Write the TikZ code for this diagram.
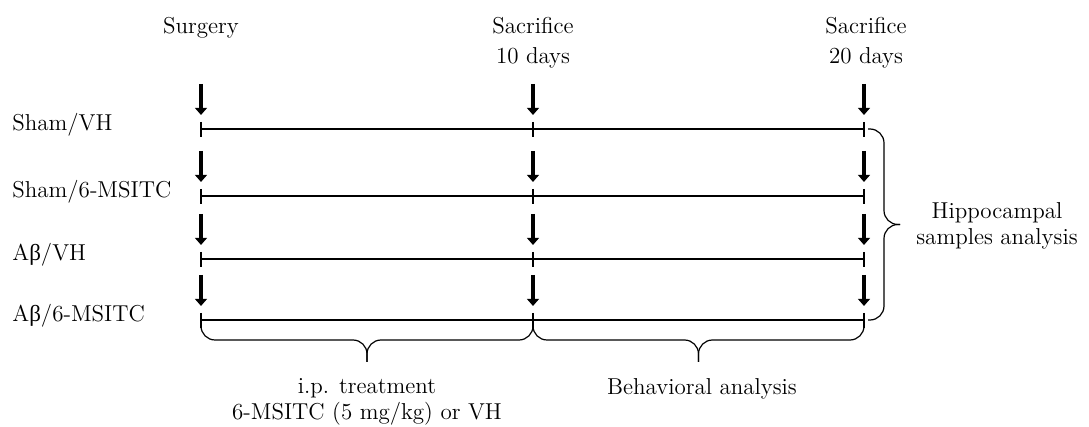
\documentclass[tikz,border=0pt]{standalone}
\usepackage{fontspec}
\newfontfamily\greekfont{Liberation Serif}
\usetikzlibrary{arrows.meta,calc}
\tikzset{
    lbl/.style={font=\fontsize{11.5}{13}\selectfont, inner sep=0pt},
    timeline/.style={line width=0.6pt},
    dropper/.style={line width=2.3pt, -{Triangle[width=6pt,length=3.6pt]}},
    bracket/.style={line width=0.6pt, rounded corners=7pt}
}
\newcommand{\abeta}{A{\greekfont β}}
\begin{document}
\begin{tikzpicture}[x=0.5pt, y=-0.5pt]
    \useasboundingbox (0,0) rectangle (1089,427);
    \foreach \r/\y in {1/129,2/196,3/259,4/320}{
        \foreach \c/\x in {a/201,b/533,c/864}{
            \coordinate (r\r\c) at (\x,\y);
            \coordinate (d\r\c) at (\x,\y-45);
            \coordinate (e\r\c) at (\x,\y-14);
            \draw[dropper] (d\r\c) -- (e\r\c);
            \draw[timeline] ([yshift=3.5pt]r\r\c) -- ([yshift=-4pt]r\r\c);
        }
        \draw[timeline] (r\r a) -- (r\r c);
    }
    \node[lbl, anchor=base west] (shamvh) at (12,131) {Sham/VH};
    \node[lbl, anchor=base west] (shamms) at (12,198) {Sham/6-MSITC};
    \node[lbl, anchor=base west] (abvh) at (12,261) {\abeta/VH};
    \node[lbl, anchor=base west] (abms) at (12,322) {\abeta/6-MSITC};
    \node[lbl, anchor=base] (surgery) at (201,34) {Surgery};
    \node[lbl, align=center] (sac10) at (533,43) {Sacrifice\\[2pt]10 days};
    \node[lbl, align=center] (sac20) at (866,43) {Sacrifice\\[2pt]20 days};
    \coordinate (ltip) at ($(r4a)!0.5!(r4b)+(0,42)$);
    \coordinate (mtip) at ($(r4b)!0.5!(r4c)+(0,42)$);
    \coordinate (rtip) at ($(r1c)!0.5!(r4c)+(36,0)$);
    \draw[bracket] (r4a) |- ([yshift=11pt]ltip) -- (ltip);
    \draw[bracket] (r4b) |- ([yshift=11pt]ltip) -- (ltip);
    \draw[bracket] (r4b) |- ([yshift=11pt]mtip) -- (mtip);
    \draw[bracket] (r4c) |- ([yshift=11pt]mtip) -- (mtip);
    \draw[bracket] ([xshift=2pt]r1c) -| ([xshift=-8pt]rtip) -- (rtip);
    \draw[bracket] ([xshift=2pt]r4c) -| ([xshift=-8pt]rtip) -- (rtip);
    \node[lbl, align=center] (hippo) at (997,226) {Hippocampal\\samples analysis};
    \node[lbl, align=center] (treat) at (367,402) {i.p. treatment\\6-MSITC (5 mg/kg) or VH};
    \node[lbl, anchor=base] (behav) at (702,395) {Behavioral analysis};
\end{tikzpicture}
\end{document}
